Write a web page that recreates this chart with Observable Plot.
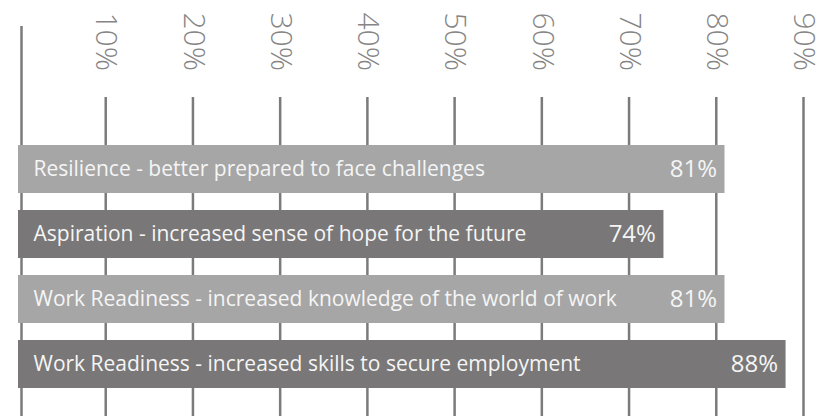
<!DOCTYPE html>
<html><head><meta charset="utf-8">
<script src="https://cdn.jsdelivr.net/npm/d3@7"></script>
<script src="https://cdn.jsdelivr.net/npm/@observablehq/plot@0.6"></script>
<style>body{margin:0;background:#fff}</style>
</head><body><div id="chart"></div>
<script>
const categories = [
  "Resilience - better prepared to face challenges",
  "Aspiration - increased sense of hope for the future",
  "Work Readiness - increased knowledge of the world of work",
  "Work Readiness - increased skills to secure employment"
];
const values = [81, 74, 81, 88];
const shades = ["light", "dark", "light", "dark"];
const ticks = [10, 20, 30, 40, 50, 60, 70, 80, 90];
const tickLabels = ["10%", "20%", "30%", "40%", "50%", "60%", "70%", "80%", "90%"];

const data = categories.map((c, i) => ({category: c, value: values[i], shade: shades[i]}));

const plot = Plot.plot({
  width: 831,
  height: 416,
  margin: 0,
  style: {fontFamily: "'Open Sans', sans-serif", background: "#fff"},
  x: {domain: [0, 90], range: [18, 803], axis: null},
  y: {domain: categories, range: [144, 388], paddingInner: 0.267, paddingOuter: 0, axis: null},
  color: {domain: ["light", "dark"], range: ["#a6a6a6", "#797777"]},
  marks: [
    Plot.ruleX([0], {x: d => d, insetTop: 26, dx: 3, stroke: "#7b7b7b", strokeWidth: 2.5}),
    Plot.ruleX(ticks, {x: d => d, insetTop: 97, stroke: "#7b7b7b", strokeWidth: 2.5}),
    Plot.text(ticks, {
      x: d => d, text: (d, i) => tickLabels[i], frameAnchor: "top", rotate: 90,
      textAnchor: "start", dy: 12, dx: 12, fontSize: 30, fill: "#858585", fontWeight: 300
    }),
    Plot.barX(data, {x: "value", y: "category", fill: "shade"}),
    Plot.text(data, {
      x: d => 0, y: "category", text: "category", textAnchor: "start", dx: 15,
      fontSize: 21, fill: "#f5f5f5"
    }),
    Plot.text(data, {
      x: "value", y: "category", text: d => d.value + "%", textAnchor: "end", dx: -8,
      fontSize: 24, fill: "#f5f5f5"
    })
  ]
});
document.getElementById("chart").append(plot);
</script>
</body></html>
